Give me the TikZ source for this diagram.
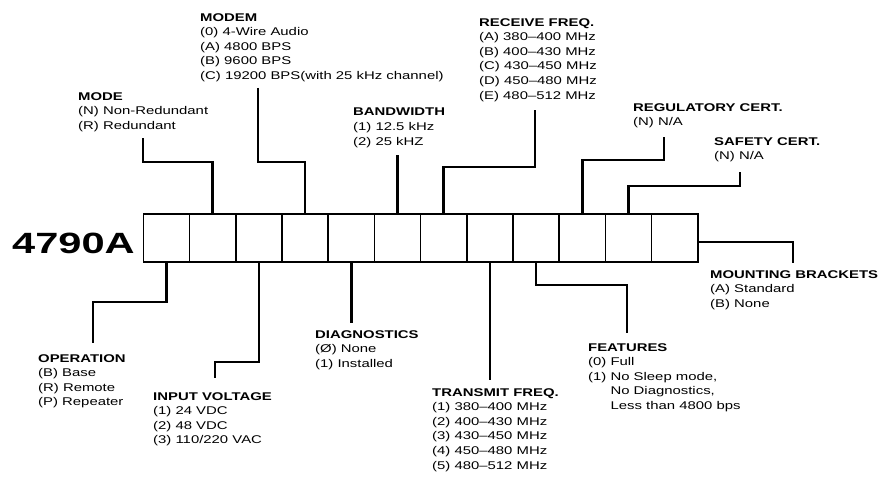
\documentclass[tikz,border=0pt]{standalone}
\usepackage{fontspec}
\setmainfont{Liberation Sans}[FakeStretch=1.33]
\newfontfamily\bigfont{Liberation Sans}[FakeStretch=1.42]
\begin{document}
\begin{tikzpicture}[x=1pt,y=-1pt,
  lbl/.style={anchor=north west, align=left, inner sep=0pt, font=\fontsize{11.2}{14.6}\selectfont},
  cell/.style={draw, line width=1.6pt, minimum width=46.2pt, minimum height=48pt, inner sep=0pt, outer sep=0pt},
  conn/.style={line width=2.6pt}]
\useasboundingbox (0,0) rectangle (880,477);

% model number
\node[anchor=base west, inner sep=0pt, font=\bigfont\bfseries\fontsize{29.3}{30}\selectfont] (model) at (12,253) {4790A};

% code boxes
\foreach \i in {1,...,12}
  \node[cell] (b\i) at ({143.3+46.2*(\i-0.5)},238) {};

% labels above
\node[lbl] (mode) at (78,92) {\textbf{MODE}\\(N) Non-Redundant\\(R) Redundant};
\node[lbl] (modem) at (200,13) {\textbf{MODEM}\\(0) 4-Wire Audio\\(A) 4800 BPS\\(B) 9600 BPS\\(C) 19200 BPS(with 25 kHz channel)};
\node[lbl] (bw) at (353,108) {\textbf{BANDWIDTH}\\(1) 12.5 kHz\\(2) 25 kHZ};
\node[lbl] (rx) at (479,18) {\textbf{RECEIVE FREQ.}\\(A) 380–400 MHz\\(B) 400–430 MHz\\(C) 430–450 MHz\\(D) 450–480 MHz\\(E) 480–512 MHz};
\node[lbl] (reg) at (633,103) {\textbf{REGULATORY CERT.}\\(N) N/A};
\node[lbl] (safe) at (714,137) {\textbf{SAFETY CERT.}\\(N) N/A};

% labels below
\node[lbl] (mount) at (710,270) {\textbf{MOUNTING BRACKETS}\\(A) Standard\\(B) None};
\node[lbl] (feat) at (588,343) {\textbf{FEATURES}\\(0) Full\\(1) No Sleep mode,\\\phantom{(1) }No Diagnostics,\\\phantom{(1) }Less than 4800 bps};
\node[lbl] (tx) at (432,388) {\textbf{TRANSMIT FREQ.}\\(1) 380–400 MHz\\(2) 400–430 MHz\\(3) 430–450 MHz\\(4) 450–480 MHz\\(5) 480–512 MHz};
\node[lbl] (diag) at (315,330) {\textbf{DIAGNOSTICS}\\(Ø) None\\(1) Installed};
\node[lbl] (volt) at (153,392) {\textbf{INPUT VOLTAGE}\\(1) 24 VDC\\(2) 48 VDC\\(3) 110/220 VAC};
\node[lbl] (op) at (38,354) {\textbf{OPERATION}\\(B) Base\\(R) Remote\\(P) Repeater};

% connectors above
\draw[conn, shorten <=6.4pt] ([xshift=65pt]mode.south west) |- ([yshift=52pt]b2.north) -- (b2.north);
\draw[conn, shorten <=6pt] ([xshift=58pt]modem.south west) |- ([yshift=52pt]b4.north) -- (b4.north);
\draw[conn, shorten >=7.4pt] (b6.north) -- (b6.north |- bw.south);
\draw[conn, shorten <=8.6pt] ([xshift=56pt]rx.south west) |- ([yshift=47pt]b7.north) -- (b7.north);
\draw[conn, shorten <=9pt] ([xshift=31pt]reg.south west) |- ([yshift=54pt]b10.north) -- (b10.north);
\draw[conn, shorten <=10pt] ([xshift=26pt]safe.south west) |- ([yshift=28pt]b11.north) -- (b11.north);

% connectors below
\draw[conn, shorten >=11pt] (b1.south) -- ([yshift=-40pt]b1.south) -| ([xshift=55pt]op.north west);
\draw[conn, shorten >=14pt] (b3.south) -- ([yshift=-100pt]b3.south) -| ([xshift=62pt]volt.north west);
\draw[conn, shorten >=7pt] (b5.south) -- (b5.south |- diag.north);
\draw[conn, shorten >=8pt] (b8.south) -- (b8.south |- tx.north);
\draw[conn, shorten >=10pt] (b9.south) -- ([yshift=-23pt]b9.south) -| ([xshift=39pt]feat.north west);
\draw[conn, shorten >=7pt] ([yshift=-4pt]b12.east) -| ([xshift=83pt]mount.north west);
\end{tikzpicture}
\end{document}
